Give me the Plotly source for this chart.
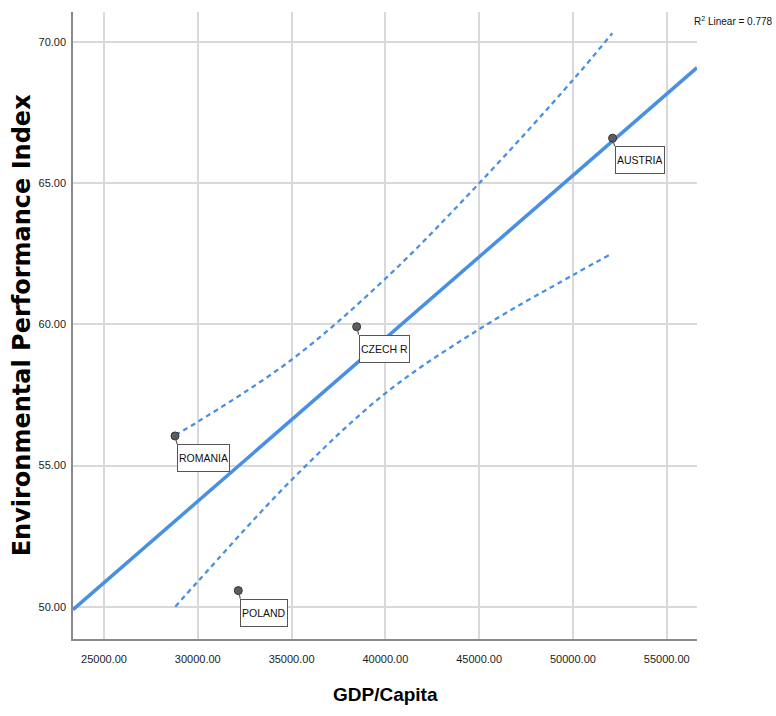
import numpy as np
import plotly.graph_objects as go

# Country observations: GDP per capita vs Environmental Performance Index
countries = ["ROMANIA", "POLAND", "CZECH R", "AUSTRIA"]
gdp_per_capita = [28785, 32160, 38470, 52115]
epi = [56.05, 50.57, 59.92, 66.60]

# 95% confidence band for the mean around the fitted line
band_x = [28800, 30000, 35000, 40000, 45000, 50000, 52100]
band_upper = [56.08, 56.55, 58.75, 61.62, 65.00, 68.66, 70.32]
band_lower = [50.00, 50.89, 54.49, 57.56, 59.83, 61.75, 62.52]

# Axis ticks
x_ticks = [25000, 30000, 35000, 40000, 45000, 50000, 55000]
y_ticks = [50, 55, 60, 65, 70]
x_range = [23347, 56615]
y_range = [48.855, 71.07]

# Linear fit
slope, intercept = np.polyfit(gdp_per_capita, epi, 1)
pred = slope * np.array(gdp_per_capita) + intercept
ss_res = np.sum((np.array(epi) - pred) ** 2)
ss_tot = np.sum((np.array(epi) - np.mean(epi)) ** 2)
r2 = 1 - ss_res / ss_tot
fit_x = np.array(x_range, dtype=float)
fit_y = slope * fit_x + intercept

BLUE = "#4a90e2"
SANS = "Liberation Sans, Arial, sans-serif"

fig = go.Figure()

fig.add_trace(go.Scatter(
    x=band_x, y=band_upper, mode="lines", line_shape="spline",
    line=dict(color=BLUE, width=2.3, dash="5px,4px"), hoverinfo="skip"))
fig.add_trace(go.Scatter(
    x=band_x, y=band_lower, mode="lines", line_shape="spline",
    line=dict(color=BLUE, width=2.3, dash="5px,4px"), hoverinfo="skip"))
fig.add_trace(go.Scatter(
    x=fit_x, y=fit_y, mode="lines",
    line=dict(color=BLUE, width=3.5), hoverinfo="skip"))
fig.add_trace(go.Scatter(
    x=gdp_per_capita, y=epi, mode="markers",
    marker=dict(size=8, color="#5e5e5e", line=dict(color="#333333", width=1)),
    hovertext=countries))

# Point labels: boxed name below-right of each point with a short leader
for cx, cy, name in zip(gdp_per_capita, epi, countries):
    fig.add_annotation(
        x=cx, y=cy, text=name, showarrow=True, arrowhead=0,
        ax=2, ay=8, arrowwidth=1.2, arrowcolor="#555555",
        xanchor="left", yanchor="top",
        font=dict(family=SANS, size=10.5, color="#111111"),
        bgcolor="white", bordercolor="#555555", borderwidth=1,
        borderpad=1, height=24)

fig.add_annotation(
    xref="paper", yref="paper", x=1.125, y=0.985,
    xanchor="right", yanchor="middle", showarrow=False,
    text=f"R<sup>2</sup> Linear = {r2:.3f}",
    font=dict(family=SANS, size=10, color="#111111"))

fig.add_annotation(
    xref="paper", yref="paper", x=-0.082, y=0.5,
    xanchor="center", yanchor="middle", textangle=-90, showarrow=False,
    text="<b>Environmental Performance Index</b>",
    font=dict(family="DejaVu Sans, sans-serif", size=24, color="#000000"))

fig.add_annotation(
    xref="paper", yref="paper", x=0.5, y=-0.089,
    xanchor="center", yanchor="middle", showarrow=False,
    text="<b>GDP/Capita</b>",
    font=dict(family=SANS, size=19, color="#000000"))

fig.update_xaxes(
    range=x_range, tickvals=x_ticks, tickformat=".2f",
    showgrid=True, gridcolor="#d9d9d9", gridwidth=1.5,
    showline=True, linecolor="#8a8a8a", linewidth=1.5,
    ticks="outside", ticklen=9, tickcolor="rgba(0,0,0,0)",
    zeroline=False,
    tickfont=dict(family=SANS, size=11, color="#222222"))
fig.update_yaxes(
    range=y_range, tickvals=y_ticks, tickformat=".2f",
    showgrid=True, gridcolor="#d9d9d9", gridwidth=1.5,
    showline=True, linecolor="#8a8a8a", linewidth=1.5,
    ticks="outside", ticklen=3, tickcolor="rgba(0,0,0,0)",
    zeroline=False,
    tickfont=dict(family=SANS, size=11, color="#222222"))

fig.update_layout(
    width=776, height=716, autosize=False,
    margin=dict(l=73, r=79, t=12, b=77),
    paper_bgcolor="white", plot_bgcolor="white",
    showlegend=False)

fig.write_html("out.html")
